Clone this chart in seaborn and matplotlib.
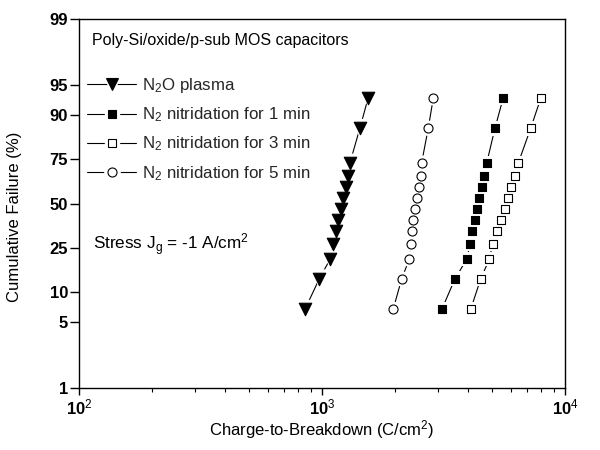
import numpy as np
import pandas as pd
import matplotlib
matplotlib.use('Agg')
import matplotlib.pyplot as plt
import seaborn as sns
from matplotlib.lines import Line2D
from matplotlib.legend_handler import HandlerTuple
from matplotlib.ticker import FixedLocator, NullLocator, FixedFormatter, LogLocator

# ---------------- data ----------------
fail_pct = [6.7, 13.3, 20.0, 26.7, 33.3, 40.0, 46.7, 53.3, 60.0, 66.7, 73.3, 86.7, 93.3]
qbd_n2o_plasma = [851, 975, 1080, 1114, 1142, 1168, 1195, 1224, 1256, 1282, 1303, 1432, 1549]
qbd_n2_1min = [3113, 3527, 3942, 4065, 4159, 4265, 4355, 4440, 4571, 4643, 4763, 5150, 5570]
qbd_n2_3min = [4093, 4500, 4883, 5038, 5263, 5437, 5659, 5800, 5995, 6225, 6426, 7224, 7962]
qbd_n2_5min = [1963, 2128, 2287, 2317, 2353, 2375, 2414, 2465, 2512, 2546, 2570, 2737, 2872]

series_labels = [r'N$_2$O plasma', r'N$_2$ nitridation for 1 min',
                 r'N$_2$ nitridation for 3 min', r'N$_2$ nitridation for 5 min']
series_values = [qbd_n2o_plasma, qbd_n2_1min, qbd_n2_3min, qbd_n2_5min]

y_tick_vals = [1, 5, 10, 25, 50, 75, 90, 95, 99]
y_tick_labels = ['1', '5', '10', '25', '50', '75', '90', '95', '99']
x_tick_vals = [1e2, 1e3, 1e4]
x_tick_labels = [r'$\mathbf{10}^{\mathrm{2}}$', r'$\mathbf{10}^{\mathrm{3}}$',
                 r'$\mathbf{10}^{\mathrm{4}}$']

# ---------------- style ----------------
sns.set_theme(style='ticks')
plt.rcParams['font.family'] = ['Liberation Sans', 'DejaVu Sans']
plt.rcParams['mathtext.fontset'] = 'custom'
plt.rcParams['mathtext.rm'] = 'Liberation Sans'
plt.rcParams['mathtext.it'] = 'Liberation Sans:italic'
plt.rcParams['mathtext.bf'] = 'Liberation Sans:bold'

styles = [
    dict(marker='v', ms=9.0, fc='black', ec='black'),
    dict(marker='s', ms=6.0, fc='black', ec='black'),
    dict(marker='s', ms=6.0, fc='white', ec='black'),
    dict(marker='o', ms=6.5, fc='white', ec='black'),
]

fig = plt.figure(figsize=(6, 4.5), dpi=100)
ax = fig.add_axes([79/600, 1-388/450, (565-79)/600, (388-19)/450])

ax.set_xscale('log')
ax.set_yscale('logit')

frames = []
for lab, vals in zip(series_labels, series_values):
    frames.append(pd.DataFrame({'qbd': vals, 'F': np.array(fail_pct)/100.0, 'series': lab}))
df = pd.concat(frames, ignore_index=True)

handles = []
for lab, st in zip(series_labels, styles):
    d = df[df['series'] == lab]
    sns.lineplot(data=d, x='qbd', y='F', ax=ax, color='black', lw=0.8,
                 sort=False, estimator=None, legend=False, zorder=1)
    sns.scatterplot(data=d, x='qbd', y='F', ax=ax, marker=st['marker'],
                    s=(st['ms']+4.5)**2, color='white', edgecolor='none',
                    legend=False, zorder=2)
    sns.scatterplot(data=d, x='qbd', y='F', ax=ax, marker=st['marker'],
                    s=st['ms']**2, facecolor=st['fc'], edgecolor=st['ec'],
                    linewidth=0.8, legend=False, zorder=3)
    h = (Line2D([], [], color='black', lw=0.8),
         Line2D([], [], ls='', marker=st['marker'], ms=st['ms']+4.5,
                mfc='white', mec='white'),
         Line2D([], [], ls='', marker=st['marker'], ms=st['ms'],
                mfc=st['fc'], mec=st['ec'], mew=0.8))
    handles.append(h)

ax.set_xlim(1e2, 1e4)
ax.set_ylim(0.01, 0.99)

ax.yaxis.set_major_locator(FixedLocator([v/100 for v in y_tick_vals]))
ax.yaxis.set_major_formatter(FixedFormatter(y_tick_labels))
ax.yaxis.set_minor_locator(NullLocator())
ax.xaxis.set_major_locator(FixedLocator(x_tick_vals))
ax.xaxis.set_major_formatter(FixedFormatter(x_tick_labels))
ax.xaxis.set_minor_locator(LogLocator(base=10, subs=np.arange(2, 10)))

for s in ax.spines.values():
    s.set_linewidth(1.0)
    s.set_color('black')

ax.tick_params(axis='y', which='major', direction='out', length=6.5, width=1.0,
               labelsize=12, pad=1.5, colors='black')
ax.tick_params(axis='x', which='major', direction='out', length=5, width=1.0,
               labelsize=12, pad=2, colors='black')
ax.tick_params(axis='x', which='minor', direction='out', length=3, width=0.8,
               colors='black')
for t in ax.get_yticklabels():
    t.set_fontweight('bold')

ax.set_xlabel(r'Charge-to-Breakdown (C/cm$^2$)', fontsize=12, color='black')
ax.set_ylabel('Cumulative Failure (%)', fontsize=12, color='black')
ax.xaxis.set_label_coords(0.5, -0.082)
ax.yaxis.set_label_coords(-0.117, 0.463)

fig.text(92/600, 1-40/450, 'Poly-Si/oxide/p-sub MOS capacitors',
         fontsize=11.5, va='center', ha='left', color='black')
fig.text(93/600, 1-245/450, r'Stress J$_\mathrm{g}$ = -1 A/cm$^2$',
         fontsize=12.3, va='center', ha='left', color='black')

leg = ax.legend(handles, series_labels, handler_map={tuple: HandlerTuple(ndivide=1)},
                loc='upper left', bbox_to_anchor=(87/600, 1-76/450),
                bbox_transform=fig.transFigure, frameon=False, fontsize=12.2,
                handlelength=2.9, handletextpad=0.35, labelspacing=0.62,
                borderpad=0, borderaxespad=0)

fig.savefig('out.png', dpi=100)
